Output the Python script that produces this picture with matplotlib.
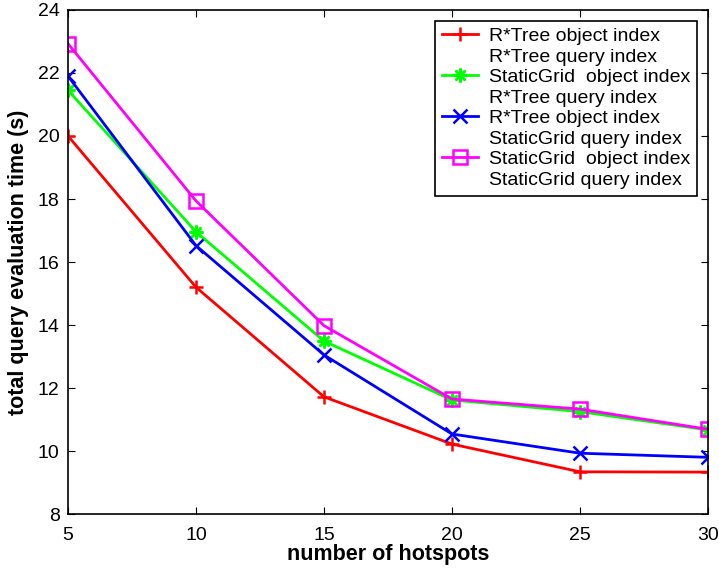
"""
Total query evaluation time vs number of hotspots.
"""

import matplotlib
matplotlib.use("Agg")
import matplotlib.pyplot as plt
from matplotlib.lines import Line2D

hotspots = [5, 10, 15, 20, 25, 30]

rtree_obj_rtree_q = [20.0, 15.2, 11.72, 10.22, 9.34, 9.33]
grid_obj_rtree_q = [21.45, 16.96, 13.49, 11.62, 11.25, 10.67]
rtree_obj_grid_q = [21.9, 16.52, 13.05, 10.54, 9.93, 9.8]
grid_obj_grid_q = [22.93, 17.94, 13.98, 11.65, 11.33, 10.69]

series = [
    (rtree_obj_rtree_q, "red", "+", "R*Tree object index", "R*Tree query index"),
    (grid_obj_rtree_q, "#00ff00", (8, 2, 0), "StaticGrid  object index", "R*Tree query index"),
    (rtree_obj_grid_q, "blue", "x", "R*Tree object index", "StaticGrid query index"),
    (grid_obj_grid_q, "magenta", "s", "StaticGrid  object index", "StaticGrid query index"),
]

plt.rcParams["font.family"] = ["Liberation Sans", "DejaVu Sans"]

fig = plt.figure(figsize=(7.19, 5.71), dpi=100)
ax = fig.add_axes([0.0946, 0.0998, 0.890, 0.8827])

handles = []
labels = []
blank = Line2D([], [], linestyle="none", marker="none")
for ys, color, marker, lab1, lab2 in series:
    (h,) = ax.plot(
        hotspots,
        ys,
        color=color,
        marker=marker,
        markersize=10 if marker != "s" else 9.5,
        markeredgewidth=1.8,
        markerfacecolor="none",
        linewidth=2,
    )
    handles += [h, blank]
    labels += [lab1, lab2]

ax.set_xlim(5, 30)
ax.set_ylim(8, 24)
ax.set_xticks(hotspots)
ax.set_yticks(range(8, 25, 2))
ax.tick_params(direction="in", top=True, right=True, labelsize=14, length=5, pad=6)
ax.tick_params(axis="x", pad=9)
for s in ax.spines.values():
    s.set_linewidth(1.2)

ax.set_xlabel("number of hotspots", fontsize=15.5, fontweight="bold", labelpad=0)
ax.set_ylabel("total query evaluation time (s)", fontsize=15.5, fontweight="bold", labelpad=6)

leg = ax.legend(
    handles,
    labels,
    loc="upper right",
    bbox_to_anchor=(1, 1),
    borderaxespad=0.55,
    fontsize=14,
    handlelength=1.85,
    handletextpad=0.6,
    labelspacing=0.15,
    borderpad=0.35,
    fancybox=False,
    framealpha=1,
    edgecolor="black",
)
leg.get_frame().set_linewidth(1.2)

fig.savefig("out.png", dpi=100)
